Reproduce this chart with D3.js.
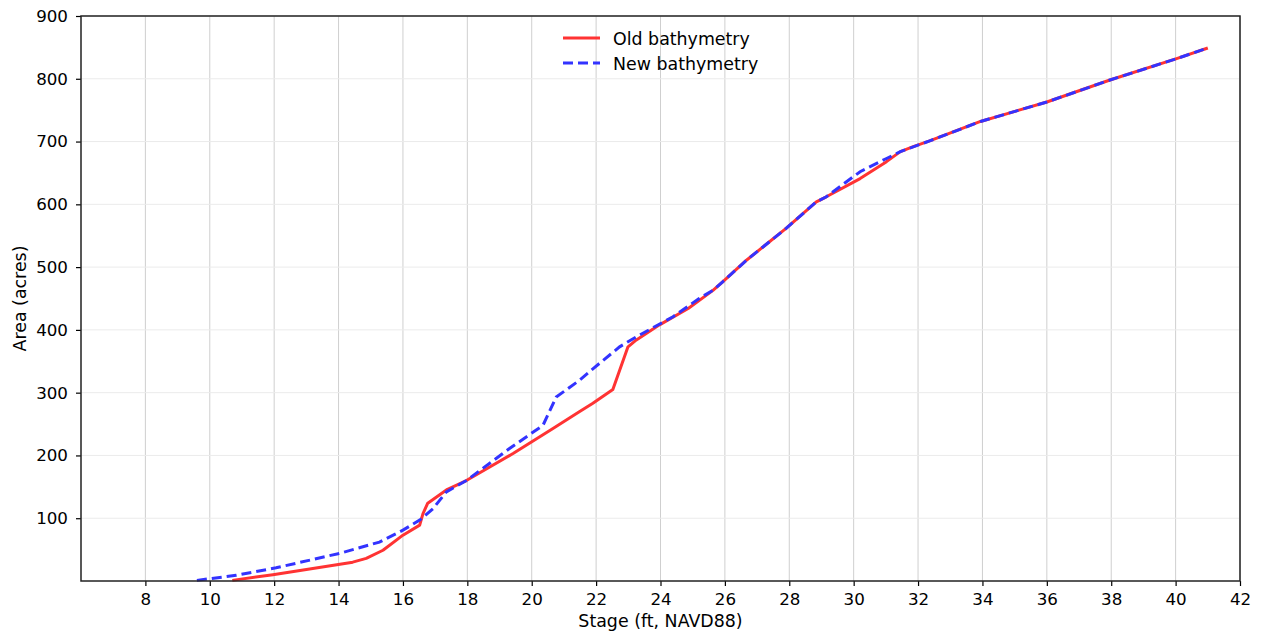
<!DOCTYPE html>
<html><head><meta charset="utf-8">
<script src="https://cdn.jsdelivr.net/npm/d3@7"></script>
<style>body{margin:0;background:#fff;} text{font-family:"DejaVu Sans",sans-serif;}</style>
</head><body><svg id="c" width="1261" height="635"></svg>
<script>
const xTicks = [8,10,12,14,16,18,20,22,24,26,28,30,32,34,36,38,40,42];
const yTicks = [100,200,300,400,500,600,700,800,900];
const oldStage = [10.7,11.96,14.44,14.86,15.38,16.0,16.52,16.62,16.77,17.35,17.97,19.42,20.66,21.49,21.9,22.52,22.99,23.25,23.97,24.86,25.63,25.94,26.67,27.91,28.84,29.15,30.2,31.02,31.45,31.85,32.36,33.94,36.0,37.96,40.03,41.0];
const oldArea  = [1,10,30,36,49,73,89,107,124,145,160,203,243,270,283,305,373,384,408,434,463,477,511,562,604,612,641,668,684,692,701,732,763,798,832,849];
const newStage = [9.6,10.82,12.06,14.03,15.27,16.0,16.52,16.93,17.35,17.97,19.31,20.35,20.76,21.49,21.9,22.73,23.25,24.39,25.2,25.63,25.94,26.67,27.91,28.84,29.15,30.2,31.02,31.45,32.36,33.94,36.0,37.96,40.03,41.0];
const newArea  = [1,9,21,44,62,81,97,115,142,160,211,248,293,320,338,373,389,421,450,463,477,511,562,604,612,652,673,684,701,732,763,798,832,849];
const seriesNames = ["Old bathymetry","New bathymetry"];

const L=81, R=1240, T=16, B=581;
const svg=d3.select("#c");
const x=d3.scaleLinear().domain([6,42]).range([L,R]);
const y=d3.scaleLinear().domain([0,900]).range([B,T]);

// grid
svg.append("g").selectAll("line").data(xTicks).join("line")
  .attr("x1",d=>x(d)).attr("x2",d=>x(d)).attr("y1",T).attr("y2",B)
  .attr("stroke","#cfcfcf").attr("stroke-width",1);
svg.append("g").selectAll("line").data(yTicks).join("line")
  .attr("x1",L).attr("x2",R).attr("y1",d=>y(d)).attr("y2",d=>y(d))
  .attr("stroke","#ebebeb").attr("stroke-width",1);

// axes
const xa=svg.append("g").attr("transform",`translate(0,${B})`)
  .call(d3.axisBottom(x).tickValues(xTicks).tickSize(5).tickPadding(7));
const ya=svg.append("g").attr("transform",`translate(${L},0)`)
  .call(d3.axisLeft(y).tickValues(yTicks).tickSize(5).tickPadding(8));
[xa,ya].forEach(a=>{a.select(".domain").remove();
  a.selectAll("text").attr("font-size",16.7).attr("fill","#000").attr("font-family","DejaVu Sans");
  a.selectAll("line").attr("stroke","#000").attr("stroke-width",1.2);});

// lines
const line=d3.line().x(d=>x(d[0])).y(d=>y(d[1]));
const oldData=oldStage.map((s,i)=>[s,oldArea[i]]);
const newData=newStage.map((s,i)=>[s,newArea[i]]);
svg.append("path").datum(oldData).attr("d",line).attr("fill","none")
  .attr("stroke","rgb(255,51,51)").attr("stroke-width",3).attr("stroke-linejoin","round");
svg.append("path").datum(newData).attr("d",line).attr("fill","none")
  .attr("stroke","rgb(51,51,255)").attr("stroke-width",3).attr("stroke-dasharray","10,5");

// frame
svg.append("rect").attr("x",L).attr("y",T).attr("width",R-L).attr("height",B-T)
  .attr("fill","none").attr("stroke","#222").attr("stroke-width",1.5);

// legend
const lg=svg.append("g");
lg.append("line").attr("x1",563).attr("x2",600).attr("y1",38).attr("y2",38)
  .attr("stroke","rgb(255,51,51)").attr("stroke-width",3);
lg.append("line").attr("x1",563).attr("x2",600).attr("y1",63).attr("y2",63)
  .attr("stroke","rgb(51,51,255)").attr("stroke-width",3).attr("stroke-dasharray","10,5");
lg.append("text").attr("x",613).attr("y",45).attr("font-size",17.4).text(seriesNames[0]);
lg.append("text").attr("x",613).attr("y",70).attr("font-size",17.4).text(seriesNames[1]);

// axis labels
svg.append("text").attr("x",(L+R)/2).attr("y",627).attr("text-anchor","middle")
  .attr("font-size",17.4).text("Stage (ft, NAVD88)");
svg.append("text").attr("transform",`translate(26,${(T+B)/2}) rotate(-90)`)
  .attr("text-anchor","middle").attr("font-size",17.4).text("Area (acres)");
</script></body></html>
